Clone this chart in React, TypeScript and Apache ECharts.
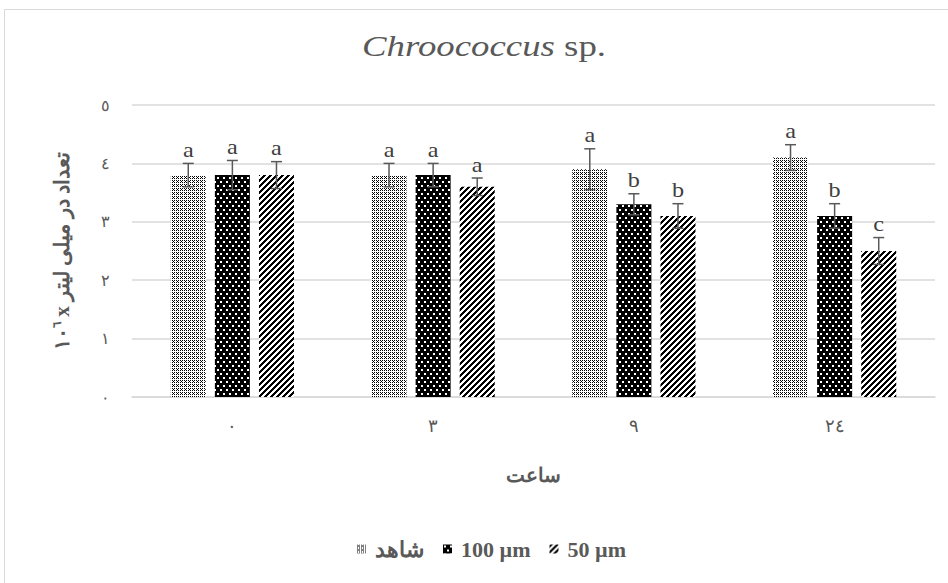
import React, { useEffect, useRef } from "react";
import * as echarts from "echarts";

const categories = ["٠", "٣", "٩", "٢٤"];
const seriesNames = ["شاهد", "100 µm", "50 µm"];
const controlValues = [3.8, 3.8, 3.9, 4.1];
const controlErrors = [0.2, 0.2, 0.35, 0.22];
const controlLetters = ["a", "a", "a", "a"];
const um100Values = [3.8, 3.8, 3.3, 3.1];
const um100Errors = [0.25, 0.2, 0.18, 0.21];
const um100Letters = ["a", "a", "b", "b"];
const um50Values = [3.8, 3.6, 3.1, 2.5];
const um50Errors = [0.23, 0.15, 0.21, 0.23];
const um50Letters = ["a", "a", "b", "c"];
const yTickLabels = ["٠", "١", "٢", "٣", "٤", "٥"];

const SERIF = "Liberation Serif";
const GRAY = "#595959";

function makePattern(kind: string): HTMLCanvasElement {
  const c = document.createElement("canvas");
  const ctx = c.getContext("2d")!;
  if (kind === "light") {
    c.width = 4; c.height = 4;
    ctx.fillStyle = "#fff"; ctx.fillRect(0, 0, 4, 4);
    ctx.fillStyle = "#000";
    ctx.fillRect(0, 0, 1, 1);
    ctx.fillRect(2, 2, 1, 1);
    ctx.fillRect(2, 0, 1, 1);
    ctx.fillRect(0, 2, 1, 1);
    ctx.fillRect(1, 1, 1, 1);
  } else if (kind === "dark") {
    c.width = 6; c.height = 8;
    ctx.fillStyle = "#000"; ctx.fillRect(0, 0, 6, 8);
    ctx.fillStyle = "#fff";
    ctx.fillRect(1, 1, 2, 2);
    ctx.fillRect(4, 5, 2, 2);
  } else {
    const n = 6;
    c.width = n; c.height = n;
    const img = ctx.createImageData(n, n);
    for (let y = 0; y < n; y++) {
      for (let x = 0; x < n; x++) {
        const black = (x + y) % n < 3;
        const i = (y * n + x) * 4;
        const v = black ? 0 : 255;
        img.data[i] = v; img.data[i + 1] = v; img.data[i + 2] = v; img.data[i + 3] = 255;
      }
    }
    ctx.putImageData(img, 0, 0);
  }
  return c;
}

export default function App() {
  const ref = useRef<HTMLDivElement>(null);
  useEffect(() => {
    document.body.style.margin = "0";
    const chart = echarts.init(ref.current!, null, { renderer: "svg" });
    const barWidth = 35;
    const gapRatio = 0.26;
    const step = barWidth * (1 + gapRatio);
    const patterns = [makePattern("light"), makePattern("dark"), makePattern("stripe")];
    const values = [controlValues, um100Values, um50Values];
    const errors = [controlErrors, um100Errors, um50Errors];
    const letters = [controlLetters, um100Letters, um50Letters];

    const barSeries = values.map((vals, i) => ({
      name: seriesNames[i],
      type: "bar",
      barWidth,
      barGap: gapRatio * 100 + "%",
      data: vals,
      itemStyle: { color: { image: patterns[i], repeat: "repeat" } },
    }));

    const errSeries = values.map((vals, i) => ({
      type: "custom",
      z: 5,
      silent: true,
      data: vals.map((v, k) => [k, v, errors[i][k]]),
      renderItem: (params: any, api: any) => {
        const idx = api.value(0);
        const v = api.value(1);
        const e = api.value(2);
        const c = api.coord([idx, v]);
        const top = api.coord([idx, v + e]);
        const bot = api.coord([idx, v - e]);
        const x = c[0] + (i - 1) * step;
        const cap = 5.5;
        const ls = { stroke: GRAY, lineWidth: 1.5 };
        return {
          type: "group",
          children: [
            { type: "line", shape: { x1: x, y1: top[1], x2: x, y2: bot[1] }, style: ls },
            { type: "line", shape: { x1: x - cap, y1: top[1], x2: x + cap, y2: top[1] }, style: ls },
            { type: "line", shape: { x1: x - cap, y1: bot[1], x2: x + cap, y2: bot[1] }, style: ls },
            {
              type: "text",
              x,
              y: top[1] - 3,
              scaleX: 1.1,
              style: {
                text: letters[i][params.dataIndex],
                textAlign: "center",
                textVerticalAlign: "bottom",
                fontFamily: SERIF,
                fontSize: 22,
                fill: "#404040",
              },
            },
          ],
        };
      },
    }));

    chart.setOption({
      animation: false,
      backgroundColor: "#fff",
      graphic: [
        {
          type: "rect",
          shape: { x: 4.5, y: 9.5, width: 1000, height: 700 },
          style: { fill: "none", stroke: "#d9d9d9", lineWidth: 1 },
          silent: true,
        },
        {
          type: "text",
          x: 484,
          y: 31,
          scaleX: 1.27,
          silent: true,
          style: {
            text: "{i|Chroococcus}{n| sp.}",
            textAlign: "center",
            textVerticalAlign: "top",
            rich: {
              i: { fontFamily: SERIF, fontStyle: "italic", fontSize: 29, fill: GRAY, color: GRAY },
              n: { fontFamily: SERIF, fontSize: 29, fill: GRAY, color: GRAY },
            },
          },
        },
      ],
      legend: {
        data: seriesNames,
        left: 352,
        top: 533,
        icon: "rect",
        itemWidth: 9,
        itemHeight: 9,
        itemGap: 19,
        textStyle: { fontFamily: SERIF, fontWeight: "bold", fontSize: 22, color: GRAY, padding: [0, 0, 0, 4] },
      },
      grid: { left: 132, right: 13, top: 105, bottom: 186, containLabel: false },
      xAxis: {
        type: "category",
        data: categories,
        name: "ساعت",
        nameLocation: "middle",
        nameGap: 68,
        nameTextStyle: { fontFamily: SERIF, fontWeight: "bold", fontSize: 20, color: GRAY },
        axisLine: { lineStyle: { color: "#d9d9d9", width: 1.5 } },
        axisTick: { show: false },
        axisLabel: { fontFamily: SERIF, fontSize: 18, color: GRAY, margin: 20 },
      },
      yAxis: {
        type: "value",
        min: 0,
        max: 5,
        interval: 1,
        name: "{n|١٠}{s|٦}{n| x تعداد در میلی لیتر}",
        nameLocation: "middle",
        nameGap: 60,
        nameRotate: 90,
        nameTextStyle: {
          rich: {
            n: { fontFamily: SERIF, fontWeight: "bold", fontSize: 21, color: GRAY },
            s: { fontFamily: SERIF, fontWeight: "bold", fontSize: 12, color: GRAY, verticalAlign: "top", padding: [0, 0, 9, 0] },
          },
        },
        axisLine: { show: false },
        axisTick: { show: false },
        splitLine: { lineStyle: { color: "#d9d9d9", width: 1.5 } },
        axisLabel: {
          fontFamily: SERIF,
          fontSize: 16,
          color: GRAY,
          margin: 22,
          formatter: (v: number) => yTickLabels[Math.round(v)],
        },
      },
      series: [...barSeries, ...errSeries],
    });
    return () => chart.dispose();
  }, []);
  return <div ref={ref} style={{ width: 948, height: 583 }} />;
}
